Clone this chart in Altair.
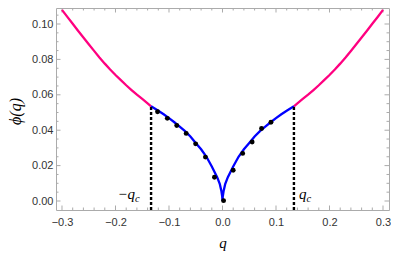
import altair as alt
import pandas as pd

# ---- values ----
q_c = 0.1335
phi_c = 0.0535

blue_q_half = [0.0, 0.0005, 0.002, 0.005, 0.01, 0.02, 0.03, 0.04, 0.05, 0.06,
               0.07, 0.08, 0.09, 0.10, 0.11, 0.12, 0.1335]
blue_phi_half = [0.0, 0.0025, 0.0055, 0.0095, 0.0135, 0.0195, 0.0250, 0.0292,
                 0.0328, 0.0365, 0.0395, 0.0420, 0.0445, 0.0468, 0.0490,
                 0.0510, 0.0535]

pink_q_half = [0.1335, 0.14, 0.15, 0.16, 0.17, 0.18, 0.19, 0.20, 0.21, 0.22,
               0.23, 0.24, 0.25, 0.26, 0.27, 0.28, 0.29, 0.30]
pink_phi_half = [0.0535, 0.0552, 0.0577, 0.0601, 0.0627, 0.0654, 0.0683,
                 0.0712, 0.0743, 0.0776, 0.0811, 0.0848, 0.0886, 0.0924,
                 0.0962, 0.1001, 0.1040, 0.1080]

pts_q = [-0.1214, -0.1031, -0.0855, -0.0679, -0.0502, -0.0319, -0.0150,
         0.0020, 0.0200, 0.0377, 0.0554, 0.0730, 0.0906]
pts_phi = [0.0504, 0.0467, 0.0427, 0.0382, 0.0323, 0.0248, 0.0134,
           0.0002, 0.0174, 0.0269, 0.0333, 0.0410, 0.0445]

x_major = [-0.3, -0.2, -0.1, 0.0, 0.1, 0.2, 0.3]
x_minor = [-0.28, -0.26, -0.24, -0.22, -0.18, -0.16, -0.14, -0.12, -0.08,
           -0.06, -0.04, -0.02, 0.02, 0.04, 0.06, 0.08, 0.12, 0.14, 0.16,
           0.18, 0.22, 0.24, 0.26, 0.28]
y_major = [0.0, 0.02, 0.04, 0.06, 0.08, 0.10]
y_minor = [0.005, 0.01, 0.015, 0.025, 0.03, 0.035, 0.045, 0.05, 0.055,
           0.065, 0.07, 0.075, 0.085, 0.09, 0.095, 0.105]

x_domain = [-0.3112, 0.3112]
y_domain = [-0.00508, 0.10904]
label_phi = 0.0012

W, H = 333, 202

# ---- tables ----
blue_df = pd.DataFrame({
    "q": [-v for v in blue_q_half[::-1]] + blue_q_half[1:],
    "phi": blue_phi_half[::-1] + blue_phi_half[1:],
})
pink_df = pd.DataFrame({
    "q": [-v for v in pink_q_half] + pink_q_half,
    "phi": pink_phi_half + pink_phi_half,
    "seg": ["L"] * len(pink_q_half) + ["R"] * len(pink_q_half),
})
pts_df = pd.DataFrame({"q": pts_q, "phi": pts_phi})
dash_df = pd.DataFrame({"q": [-q_c, q_c], "phi": [y_domain[0]] * 2,
                        "phi2": [phi_c, phi_c]})
xmaj_df = pd.DataFrame({"q": x_major})
xmin_df = pd.DataFrame({"q": x_minor})
ymaj_df = pd.DataFrame({"phi": y_major})
ymin_df = pd.DataFrame({"phi": y_minor})

FRAME = "#ababab"
LABEL = "#333333"

xscale = alt.Scale(domain=x_domain, nice=False, zero=False)
yscale = alt.Scale(domain=y_domain, nice=False, zero=False)

xaxis = alt.Axis(values=x_major, format=".1f", ticks=False, domain=False,
                 grid=False, labelFont="Liberation Sans", labelFontSize=11,
                 labelColor=LABEL, labelPadding=6, labelFlush=False,
                 labelOverlap=False, title="q", titleFont="Liberation Serif",
                 titleFontStyle="italic", titleFontWeight="normal",
                 titleFontSize=15, titleColor="black", titleX=W / 2,
                 titleY=37, titleBaseline="alphabetic", titleAlign="center")
yaxis = alt.Axis(values=y_major, format=".2f", ticks=False, domain=False,
                 grid=False, labelFont="Liberation Sans", labelFontSize=11,
                 labelColor=LABEL, labelPadding=3, labelFlush=False,
                 labelOverlap=False, title="ϕ(q)",
                 titleFont="Liberation Serif", titleFontStyle="italic",
                 titleFontWeight="normal", titleFontSize=16,
                 titleColor="black", titleAngle=270, titleX=-41, titleY=103,
                 titleBaseline="middle", titleAlign="center")

X = alt.X("q:Q", scale=xscale, axis=xaxis)
Y = alt.Y("phi:Q", scale=yscale, axis=yaxis)

blue = alt.Chart(blue_df).mark_line(color="#0000ff", strokeWidth=2.3).encode(
    x=X, y=Y, order="q:Q")
pink = alt.Chart(pink_df).mark_line(color="#ff0080", strokeWidth=2.3).encode(
    x=X, y=Y, detail="seg:N", order="q:Q")
dashes = alt.Chart(dash_df).mark_rule(
    color="black", strokeWidth=2.4, strokeDash=[3, 2]).encode(
    x=X, y=Y, y2="phi2:Q")
points = alt.Chart(pts_df).mark_circle(color="black", size=24,
                                       opacity=1).encode(x=X, y=Y)

def xticks(df, length):
    bottom = alt.Chart(df).mark_rule(color=FRAME, strokeWidth=1).encode(
        x=X, y=alt.value(H), y2=alt.value(H - length))
    top = alt.Chart(df).mark_rule(color=FRAME, strokeWidth=1).encode(
        x=X, y=alt.value(0), y2=alt.value(length))
    return [bottom, top]

def yticks(df, length):
    left = alt.Chart(df).mark_rule(color=FRAME, strokeWidth=1).encode(
        y=Y, x=alt.value(0), x2=alt.value(length))
    right = alt.Chart(df).mark_rule(color=FRAME, strokeWidth=1).encode(
        y=Y, x=alt.value(W), x2=alt.value(W - length))
    return [left, right]

ticks = (xticks(xmaj_df, 4.5) + xticks(xmin_df, 2.5) +
         yticks(ymaj_df, 4.5) + yticks(ymin_df, 2.5))

ann_df_l = pd.DataFrame({"q": [-q_c], "phi": [label_phi]})
ann_df_r = pd.DataFrame({"q": [q_c], "phi": [label_phi]})

def txt(df, text, align, dx, dy, size):
    return alt.Chart(df).mark_text(
        text=text, align=align, baseline="alphabetic", dx=dx, dy=dy,
        font="Liberation Serif", fontStyle="italic", fontSize=size,
        color="black").encode(x=X, y=Y)

anns = [
    txt(ann_df_l, "−q", "right", -16, 0, 15),
    txt(ann_df_l, "c", "left", -16, 3, 10.5),
    txt(ann_df_r, "q", "left", 5, 0, 15),
    txt(ann_df_r, "c", "left", 12.5, 3, 10.5),
]

chart = alt.layer(*ticks, pink, blue, dashes, points, *anns).properties(
    width=W, height=H,
    autosize=alt.AutoSizeParams(type="none"),
    padding={"left": 48, "top": 0, "right": 2, "bottom": 41},
).configure_view(stroke=FRAME, strokeWidth=1)

chart.save("out.html", embed_options={"renderer": "svg", "actions": False})
